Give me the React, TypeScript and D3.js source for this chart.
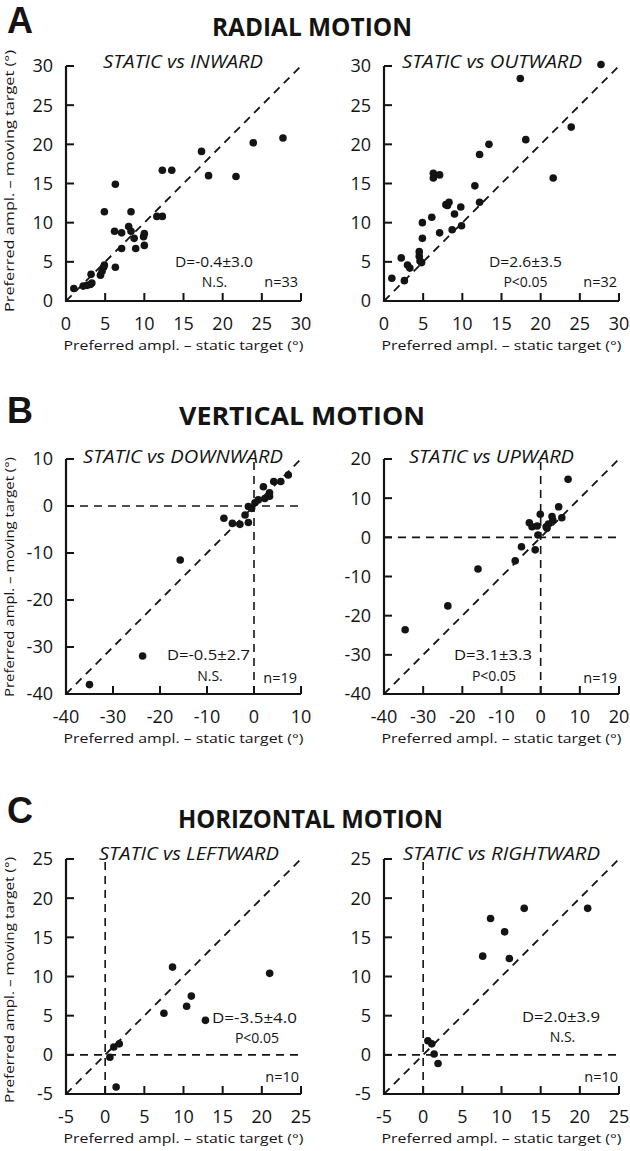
import React from "react";
import * as d3 from "d3";

// ---------- DATA ----------
const radialTicks = [0, 5, 10, 15, 20, 25, 30];
const downXTicks = [-40, -30, -20, -10, 0, 10];
const downYTicks = [-40, -30, -20, -10, 0, 10];
const upTicks = [-40, -30, -20, -10, 0, 10, 20];
const horizTicks = [-5, 0, 5, 10, 15, 20, 25];

const inwardX = [1.0, 2.2, 2.7, 3.1, 3.3, 3.2, 4.4, 4.6, 4.8, 4.9, 4.9, 6.3, 6.3, 6.2, 7.1, 7.1, 8.0, 8.3, 8.3, 8.7, 8.9, 9.9, 10.0, 10.0, 11.6, 12.3, 12.3, 13.5, 17.3, 18.2, 21.7, 23.9, 27.7];
const inwardY = [1.6, 1.9, 2.0, 2.1, 2.3, 3.4, 3.3, 3.8, 4.3, 4.6, 11.4, 4.3, 14.9, 8.9, 8.7, 6.7, 9.5, 11.4, 8.9, 8.0, 6.7, 8.2, 8.6, 7.1, 10.8, 10.8, 16.7, 16.7, 19.1, 16.0, 15.9, 20.2, 20.8];

const outwardX = [1.0, 2.2, 2.6, 3.0, 3.3, 4.5, 4.5, 4.6, 4.9, 4.9, 6.1, 6.3, 6.3, 7.1, 7.1, 7.9, 8.1, 8.3, 8.7, 9.0, 9.8, 9.9, 11.6, 12.2, 12.2, 13.4, 17.4, 18.1, 21.6, 23.9, 27.7, 4.8];
const outwardY = [2.9, 5.5, 2.6, 4.6, 4.2, 6.3, 5.7, 5.1, 8.0, 10.0, 10.7, 16.3, 15.7, 16.1, 8.7, 12.3, 12.2, 12.6, 9.1, 11.1, 12.0, 9.6, 14.7, 18.7, 12.6, 20.0, 28.4, 20.6, 15.7, 22.2, 30.2, 4.9];

const downwardX = [-35.0, -23.7, -15.7, -6.4, -4.6, -3.0, -1.9, -1.2, -1.2, -0.5, 0.2, 0.9, 2.0, 2.3, 3.3, 3.3, 4.2, 5.7, 7.3];
const downwardY = [-38.0, -31.9, -11.5, -2.6, -3.7, -3.9, -1.9, -3.5, -0.1, -0.5, 0.7, 1.3, 4.1, 1.6, 2.1, 2.8, 5.2, 5.2, 6.6];

const upwardX = [-34.6, -23.7, -16.0, -6.5, -4.9, -2.9, -2.2, -1.4, -0.9, -0.7, -0.1, 1.4, 1.6, 2.0, 2.9, 3.1, 4.6, 5.4, 7.0];
const upwardY = [-23.6, -17.5, -8.1, -6.0, -2.4, 3.7, 2.7, -3.2, 2.9, 0.6, 5.9, 2.7, 2.3, 3.4, 5.3, 4.4, 7.8, 5.0, 14.8];

const leftwardX = [0.6, 1.1, 1.8, 1.4, 7.5, 8.6, 10.4, 11.0, 12.8, 21.0];
const leftwardY = [-0.3, 1.0, 1.4, -4.1, 5.3, 11.2, 6.2, 7.5, 4.4, 10.4];

const rightwardX = [0.6, 1.1, 1.4, 1.9, 7.6, 8.6, 10.4, 11.0, 12.9, 21.0];
const rightwardY = [1.8, 1.4, 0.1, -1.1, 12.6, 17.4, 15.7, 12.3, 18.7, 18.7];

const sectionTitles = ["RADIAL MOTION", "VERTICAL MOTION", "HORIZONTAL MOTION"];
const sectionLetters = ["A", "B", "C"];
const subtitles = ["STATIC vs INWARD", "STATIC vs OUTWARD", "STATIC vs DOWNWARD", "STATIC vs UPWARD", "STATIC vs LEFTWARD", "STATIC vs RIGHTWARD"];
const statD = ["D=-0.4±3.0", "D=2.6±3.5", "D=-0.5±2.7", "D=3.1±3.3", "D=-3.5±4.0", "D=2.0±3.9"];
const statP = ["N.S.", "P<0.05", "N.S.", "P<0.05", "P<0.05", "N.S."];
const statN = ["n=33", "n=32", "n=19", "n=19", "n=10", "n=10"];
const xLabel = "Preferred ampl. – static target (°)";
const yLabel = "Preferred ampl. – moving target (°)";

// ---------- LAYOUT ----------
const FONT = "'Open Sans', 'Noto Sans', sans-serif";
const LETTER_FONT = "'Liberation Sans', Arial, sans-serif";
const INK = "#141414";
const SIZE = 235;
const colX = [66, 384];
const rowY = [66, 459, 859];

type Panel = {
  xs: number[]; ys: number[]; xTicks: number[]; yTicks: number[];
  col: number; row: number;
  sub: { cx: number; w: number; dy: number };
  d: { cx: number; by: number; w: number }; p: { cx: number; by: number }; n: { ex: number; by: number };
};

const panels: Panel[] = [
  { xs: inwardX, ys: inwardY, xTicks: radialTicks, yTicks: radialTicks, col: 0, row: 0,
    sub: { cx: 183, w: 160, dy: 2 }, d: { cx: 214, by: 267, w: 78 }, p: { cx: 214.5, by: 287 }, n: { ex: 298, by: 287 } },
  { xs: outwardX, ys: outwardY, xTicks: radialTicks, yTicks: radialTicks, col: 1, row: 0,
    sub: { cx: 492, w: 180, dy: 2 }, d: { cx: 525.5, by: 267, w: 73 }, p: { cx: 525.5, by: 287 }, n: { ex: 617, by: 287 } },
  { xs: downwardX, ys: downwardY, xTicks: downXTicks, yTicks: downYTicks, col: 0, row: 1,
    sub: { cx: 183, w: 200, dy: 4 }, d: { cx: 208.5, by: 660, w: 83 }, p: { cx: 210, by: 681 }, n: { ex: 297, by: 683 } },
  { xs: upwardX, ys: upwardY, xTicks: upTicks, yTicks: upTicks, col: 1, row: 1,
    sub: { cx: 491.5, w: 165, dy: 4 }, d: { cx: 493, by: 660, w: 78 }, p: { cx: 494, by: 681 }, n: { ex: 617, by: 683 } },
  { xs: leftwardX, ys: leftwardY, xTicks: horizTicks, yTicks: horizTicks, col: 0, row: 2,
    sub: { cx: 189, w: 180, dy: 1 }, d: { cx: 254.5, by: 1023, w: 85 }, p: { cx: 257, by: 1043 }, n: { ex: 299, by: 1082 } },
  { xs: rightwardX, ys: rightwardY, xTicks: horizTicks, yTicks: horizTicks, col: 1, row: 2,
    sub: { cx: 501.5, w: 197, dy: 1 }, d: { cx: 561, by: 1022, w: 78 }, p: { cx: 562.5, by: 1042 }, n: { ex: 618, by: 1082 } },
];

const titleLayout = [
  { cx: 312, by: 36, w: 200, ly: 33 },
  { cx: 302, by: 425, w: 246, ly: 423 },
  { cx: 310.5, by: 828, w: 265, ly: 823 },
];
const yLabelLayout = [
  { cy: 181, len: 262 },
  { cy: 577, len: 240 },
  { cy: 980, len: 246 },
];

function ScatterPanel({ p, i }: { p: Panel; i: number }) {
  const x0 = colX[p.col];
  const y0 = rowY[p.row];
  const xDom = d3.extent(p.xTicks) as [number, number];
  const yDom = d3.extent(p.yTicks) as [number, number];
  const x = d3.scaleLinear().domain(xDom).range([x0, x0 + SIZE]);
  const y = d3.scaleLinear().domain(yDom).range([y0 + SIZE, y0]);
  const lo = Math.max(xDom[0], yDom[0]);
  const hi = Math.min(xDom[1], yDom[1]);
  const diag = d3.line<number>().x((v) => x(v)).y((v) => y(v))([lo, hi]) || "";
  const dash = "8 6";
  const pts = d3.zip(p.xs, p.ys);
  const bottom = y(yDom[0]);
  const left = x(xDom[0]);
  return (
    <g>
      <path d={diag} stroke={INK} strokeWidth={1.8} strokeDasharray={dash} fill="none" />
      {yDom[0] < 0 && (
        <line x1={left} x2={x(xDom[1])} y1={y(0)} y2={y(0)} stroke={INK} strokeWidth={1.6} strokeDasharray={dash} />
      )}
      {xDom[0] < 0 && (
        <line x1={x(0)} x2={x(0)} y1={bottom} y2={y(yDom[1])} stroke={INK} strokeWidth={1.6} strokeDasharray={dash} />
      )}
      <line x1={left} x2={left} y1={bottom + 1} y2={y(yDom[1])} stroke={INK} strokeWidth={2.2} />
      <line x1={left - 1} x2={x(xDom[1])} y1={bottom} y2={bottom} stroke={INK} strokeWidth={2.2} />
      {p.yTicks.map((t) => (
        <g key={"yt" + t}>
          <line x1={left} x2={left + 8} y1={y(t)} y2={y(t)} stroke={INK} strokeWidth={2} />
          <text x={left - 13} y={y(t)} dy="0.36em" textAnchor="end" fontSize={18} fontFamily={FONT} fill={INK}>{t}</text>
        </g>
      ))}
      {p.xTicks.map((t) => (
        <g key={"xt" + t}>
          <line x1={x(t)} x2={x(t)} y1={bottom} y2={bottom - 8} stroke={INK} strokeWidth={2} />
          <text x={x(t)} y={bottom + 29} textAnchor="middle" fontSize={18} fontFamily={FONT} fill={INK}>{t}</text>
        </g>
      ))}
      {pts.map(([a, b], k) => (
        <circle key={k} cx={x(a)} cy={y(b)} r={3.8} fill={INK} />
      ))}
      <text x={p.sub.cx} y={y0 + p.sub.dy} textAnchor="middle" fontSize={18} fontStyle="italic" fontFamily={FONT} fill={INK}
        textLength={p.sub.w} lengthAdjust="spacingAndGlyphs">{subtitles[i]}</text>
      <text x={p.d.cx} y={p.d.by} textAnchor="middle" fontSize={14} fontFamily={FONT} fill={INK}
        textLength={p.d.w} lengthAdjust="spacingAndGlyphs">{statD[i]}</text>
      <text x={p.p.cx} y={p.p.by} textAnchor="middle" fontSize={14} fontFamily={FONT} fill={INK}>{statP[i]}</text>
      <text x={p.n.ex} y={p.n.by} textAnchor="end" fontSize={14.5} fontFamily={FONT} fill={INK}>{statN[i]}</text>
      <text x={(left + x(xDom[1])) / 2} y={bottom + 49} textAnchor="middle" fontSize={13.5} fontFamily={FONT} fill={INK}
        textLength={240} lengthAdjust="spacingAndGlyphs">{xLabel}</text>
    </g>
  );
}

export default function App() {
  return (
    <div>
      <style>{`body{margin:0;}`}</style>
      <svg width={630} height={1151} viewBox="0 0 630 1151" style={{ display: "block", background: "#fff" }}>
        <rect x={0} y={0} width={630} height={1151} fill="#fff" />
        {titleLayout.map((t, r) => (
          <g key={"title" + r}>
            <text x={7} y={t.ly} fontSize={36} fontWeight="bold" fontFamily={LETTER_FONT} fill={INK}>{sectionLetters[r]}</text>
            <text x={t.cx} y={t.by} textAnchor="middle" fontSize={24.5} fontWeight="bold" fontFamily={FONT} fill={INK}
              textLength={t.w} lengthAdjust="spacingAndGlyphs">{sectionTitles[r]}</text>
            <text transform={`translate(14,${yLabelLayout[r].cy}) rotate(-90)`} textAnchor="middle" fontSize={13}
              fontFamily={FONT} fill={INK} textLength={yLabelLayout[r].len} lengthAdjust="spacingAndGlyphs">{yLabel}</text>
          </g>
        ))}
        {panels.map((p, i) => (
          <ScatterPanel key={i} p={p} i={i} />
        ))}
      </svg>
    </div>
  );
}
